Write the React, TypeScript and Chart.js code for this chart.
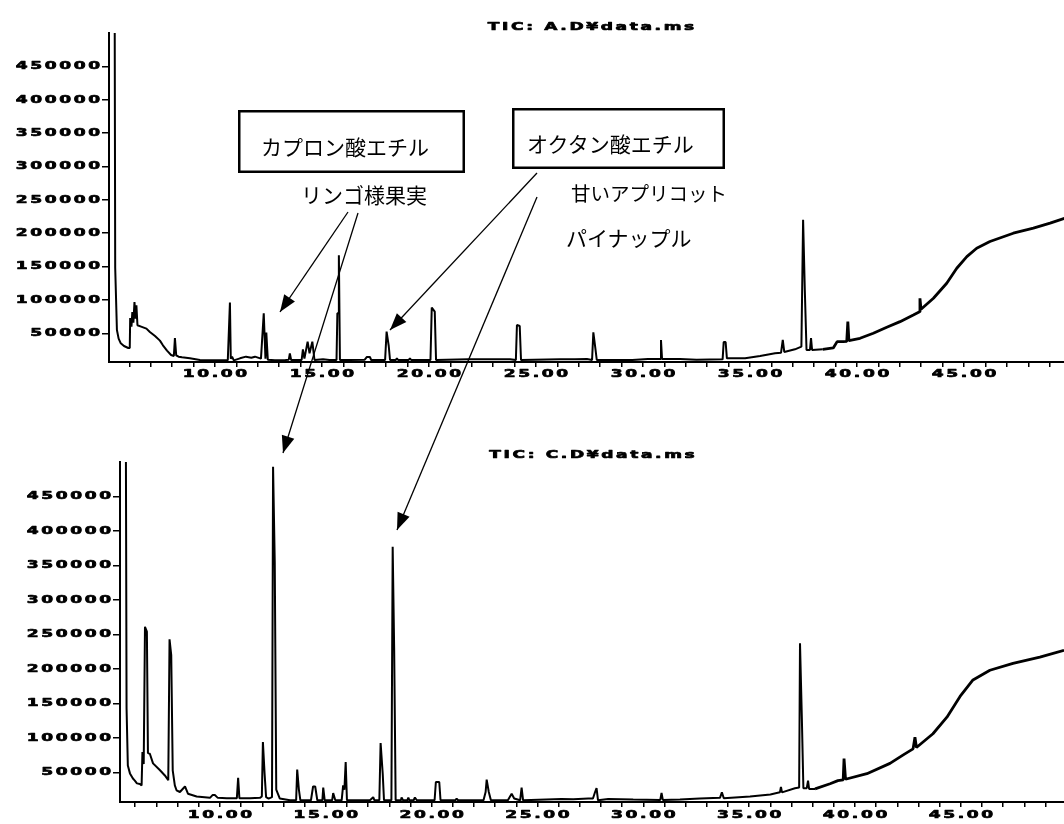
import React, { useEffect, useRef } from 'react';
import { Chart, registerables } from 'chart.js';

Chart.register(...registerables);

// ---------- Data ----------
const titleA = 'TIC: A.D¥data.ms';
const titleC = 'TIC: C.D¥data.ms';

// Retention time (min) and TIC intensity, sample A (top)
const timeA = [
  5.31, 5.34, 5.42, 5.50, 5.60, 5.75, 5.95, 6.02, 6.04, 6.10, 6.14, 6.19, 6.24, 6.29, 6.33, 6.38,
  6.55, 6.80, 6.96, 7.20, 7.43, 7.57, 7.76, 7.95, 8.08, 8.13, 8.19, 8.30, 8.46, 8.83, 9.30, 10.00,
  10.60, 10.70, 10.74, 10.80, 10.88, 11.17, 11.45, 11.70, 11.87, 12.15, 12.28, 12.36, 12.40, 12.47,
  12.80, 13.30, 13.45, 13.50, 13.56, 14.05, 14.11, 14.18, 14.33, 14.42, 14.55, 14.65, 15.05, 15.35,
  15.68, 15.72, 15.76, 15.79, 15.84, 16.30, 17.00, 17.10, 17.24, 17.30, 17.95, 18.02, 18.12, 18.18,
  18.45, 18.50, 18.56, 19.05, 19.11, 19.17, 20.07, 20.13, 20.27, 20.33, 21.82, 22.85, 23.79, 24.06,
  24.11, 24.24, 24.30, 26.12, 26.82, 27.38, 27.62, 27.68, 27.78, 27.84, 29.50, 30.23, 30.80, 30.84,
  30.89, 31.73, 32.50, 33.72, 33.77, 33.86, 33.92, 34.77, 35.47, 36.17, 36.45, 36.53, 36.60, 37.10,
  37.40, 37.48, 37.56, 37.64, 37.80, 37.85, 37.90, 38.40, 38.89, 39.07, 39.35, 39.52, 39.57, 39.62,
  40.14, 40.76, 41.39, 42.01, 42.63, 42.90, 42.94, 42.99, 43.57, 44.19, 44.66, 45.13, 45.59, 46.21,
  47.30, 48.24, 49.02, 49.70,
];
const ticA = [
  620000, 148000, 55000, 42000, 35000, 31000, 28000, 28000, 73000, 60000, 82000, 66000, 97000, 72000, 92000, 62000,
  60000, 57000, 52000, 46000, 39000, 32000, 24000, 17500, 16000, 43000, 17000, 15000, 14000, 12500, 10000, 9500,
  9500, 96000, 12000, 15000, 9500, 12500, 15000, 13500, 15000, 12000, 80000, 12000, 51000, 10500,
  9500, 10000, 10500, 20000, 10000, 10000, 26000, 12000, 37500, 20000, 37500, 10000, 11000, 10000,
  10000, 80000, 80000, 167000, 10000, 10000, 10500, 14500, 14500, 10000, 10000, 52500, 31000, 10000,
  10000, 12500, 10000, 10000, 12500, 10000, 10000, 88500, 82500, 10000, 11000, 11000, 11000, 10000,
  62500, 61000, 10000, 11000, 11000, 11500, 10000, 51500, 26000, 10000, 10000, 11500, 11500, 40000,
  11500, 11500, 10500, 11000, 37000, 37000, 12500, 12500, 16000, 20000, 21000, 40000, 22000, 26000,
  30000, 220000, 115000, 25000, 25000, 43000, 25000, 26000, 28000, 37500, 37500, 38000, 67500, 39000,
  42500, 50000, 59000, 67500, 77500, 82000, 102500, 86000, 102500, 125000, 147500, 165000, 177500, 187500,
  200000, 207500, 215000, 222500,
];

// Retention time (min) and TIC intensity, sample C (bottom)
const timeC = [
  5.55, 5.59, 5.65, 5.75, 5.89, 5.98, 6.08, 6.22, 6.30, 6.34, 6.40, 6.46, 6.55, 6.60, 6.69, 6.84,
  7.17, 7.40, 7.56, 7.62, 7.70, 7.77, 7.87, 7.95, 8.11, 8.35, 8.49, 8.90, 9.53, 9.65, 9.76, 9.90,
  10.32, 10.80, 10.86, 10.92, 11.42, 11.89, 11.98, 12.03, 12.11, 12.18, 12.30, 12.46, 12.51, 12.59,
  12.66, 12.83, 13.31, 13.60, 13.65, 13.73, 13.80, 14.30, 14.40, 14.50, 14.60, 14.84, 14.88, 14.95,
  15.30, 15.35, 15.45, 15.75, 15.82, 15.88, 15.94, 16.00, 16.61, 17.10, 17.24, 17.30, 17.53, 17.59,
  17.69, 17.75, 18.10, 18.16, 18.23, 18.30, 18.55, 18.58, 18.65, 18.85, 18.90, 18.95, 19.15, 19.21,
  19.30, 20.14, 20.20, 20.36, 20.42, 21.12, 21.18, 21.25, 22.45, 22.55, 22.60, 22.70, 22.80, 23.60,
  23.78, 23.90, 24.18, 24.25, 24.32, 26.14, 26.69, 27.40, 27.62, 27.72, 27.79, 27.86, 28.34, 29.52,
  30.80, 30.86, 30.92, 31.73, 32.67, 33.62, 33.71, 33.80, 35.04, 36.00, 36.45, 36.50, 36.55, 37.16,
  37.36, 37.40, 37.49, 37.56, 37.72, 37.78, 37.83, 38.11, 38.82, 39.19, 39.44, 39.48, 39.55, 40.56,
  41.65, 42.26, 42.74, 42.83, 42.90, 43.68, 44.34, 44.96, 45.57, 46.37, 47.46, 48.73, 49.87,
];
const ticC = [
  620000, 142500, 60000, 48500, 41000, 38000, 34000, 33000, 31000, 79500, 62000, 261000, 254000, 78000, 77000, 63000,
  53000, 45500, 38500, 243000, 220000, 53000, 31000, 24000, 21500, 29500, 19000, 15000, 13000, 17000, 17000, 13000,
  12500, 12500, 42000, 12500, 12500, 13000, 15000, 94000, 48000, 14000, 12000, 14000, 493000, 354000,
  25000, 12000, 9500, 9500, 54000, 25000, 9500, 9500, 29500, 29500, 9500, 9500, 28000, 9500,
  9500, 20000, 9500, 9500, 31000, 25000, 65000, 9500, 9500, 10000, 14000, 9500, 9500, 92500,
  48000, 9500, 9500, 377000, 230000, 9500, 9500, 13500, 9500, 9500, 13500, 9500, 9500, 13500,
  9500, 9500, 36000, 36000, 9500, 9500, 12000, 9500, 9500, 21500, 39500, 21500, 9500, 9500,
  19000, 12000, 9500, 28000, 9500, 11500, 11000, 12000, 12000, 21500, 27000, 9500, 11500, 10500,
  10000, 20000, 10000, 10500, 12000, 13000, 21000, 12500, 15000, 18000, 21000, 29000, 21000, 27000,
  28000, 237000, 125000, 27000, 27000, 38000, 26000, 26000, 33500, 38000, 39000, 70000, 40000, 48000,
  63000, 75000, 84000, 101000, 86000, 106000, 130000, 160000, 184000, 198000, 208000, 217000, 227000,
];

// Tick values
const xTickValues = [
  6, 7, 8, 9, 10, 11, 12, 13, 14, 15, 16, 17, 18, 19, 20, 21, 22, 23, 24, 25, 26, 27,
  28, 29, 30, 31, 32, 33, 34, 35, 36, 37, 38, 39, 40, 41, 42, 43, 44, 45, 46, 47, 48, 49,
];
const xLabelValues = [10, 15, 20, 25, 30, 35, 40, 45];
const yTickValues = [50000, 100000, 150000, 200000, 250000, 300000, 350000, 400000, 450000];

// ---------- Drawing helpers ----------
const LABEL_FONT = 'bold 11px "DejaVu Sans", sans-serif';
const STRETCH_X = 1.55;
const LETTER_SP = 1.7;

function drawStretched(ctx: CanvasRenderingContext2D, text: string, x: number, y: number, align: string) {
  ctx.save();
  ctx.font = LABEL_FONT;
  (ctx as any).letterSpacing = LETTER_SP + 'px';
  ctx.textAlign = 'left';
  ctx.textBaseline = 'middle';
  ctx.fillStyle = '#000';
  ctx.strokeStyle = '#000';
  ctx.lineWidth = 0.7;
  ctx.lineJoin = 'round';
  const w = (ctx.measureText(text).width - LETTER_SP) * STRETCH_X;
  const left = align === 'center' ? x - w / 2 : align === 'right' ? x - w : x;
  ctx.translate(left, y);
  ctx.scale(STRETCH_X, 1);
  ctx.fillText(text, 0, 0);
  ctx.strokeText(text, 0, 0);
  ctx.restore();
}

const stretchLabels = {
  id: 'stretchLabels',
  afterDraw(chart: any, _args: any, opts: any) {
    const ctx = chart.ctx;
    const xs = chart.scales.x;
    const ys = chart.scales.y;
    const area = chart.chartArea;
    xs.ticks.forEach((t: any) => {
      if (t.label) drawStretched(ctx, String(t.label), xs.getPixelForValue(t.value), opts.xLabelY, 'center');
    });
    ys.ticks.forEach((t: any) => {
      if (t.label) drawStretched(ctx, String(t.label), area.left - opts.yLabelGap, ys.getPixelForValue(t.value), 'right');
    });
    const title = chart.options.plugins.title.text;
    if (title) drawStretched(ctx, title, opts.titleX, opts.titleY, 'center');
  },
};

function makeConfig(p: {
  times: number[]; values: number[]; title: string; xMin: number; xMax: number;
  padTop: number; xAxisHeight: number; yAxisWidth: number; titleX: number; titleY: number; xLabelY: number;
}): any {
  return {
    type: 'line',
    data: {
      datasets: [
        {
          data: p.times.map((t, i) => ({ x: t, y: p.values[i] })),
          borderColor: '#000',
          borderWidth: 2,
          borderJoinStyle: 'bevel',
          pointRadius: 0,
          tension: 0,
          fill: false,
          segment: {
            borderWidth: (c: any) => (c.p0.parsed.x > 38 ? 2.8 : 2),
          },
        },
      ],
    },
    options: {
      animation: false,
      responsive: false,
      events: [],
      layout: { padding: { top: p.padTop, left: 0, right: 0, bottom: 0 } },
      plugins: {
        legend: { display: false },
        tooltip: { enabled: false },
        title: { display: false, text: p.title },
        stretchLabels: { titleX: p.titleX, titleY: p.titleY, xLabelY: p.xLabelY, yLabelGap: 9 },
      },
      scales: {
        x: {
          type: 'linear',
          min: p.xMin,
          max: p.xMax,
          afterBuildTicks: (s: any) => { s.ticks = xTickValues.map((v) => ({ value: v })); },
          afterFit: (s: any) => { s.height = p.xAxisHeight; },
          ticks: {
            display: false,
            callback: (v: number) => (xLabelValues.includes(v) ? v.toFixed(2) : ''),
          },
          grid: { drawOnChartArea: false, drawTicks: true, tickLength: 5, color: '#000', tickColor: '#000', lineWidth: 1.5, tickWidth: 1.5 },
          border: { display: true, color: '#000', width: 2 },
        },
        y: {
          type: 'linear',
          min: 7000,
          max: 500000,
          afterBuildTicks: (s: any) => { s.ticks = yTickValues.map((v) => ({ value: v })); },
          afterFit: (s: any) => { s.width = p.yAxisWidth; },
          ticks: { display: false, callback: (v: number) => String(v) },
          grid: { drawOnChartArea: false, drawTicks: true, tickLength: 7, color: '#000', tickColor: '#000', lineWidth: 1.5, tickWidth: 1.5 },
          border: { display: true, color: '#000', width: 2 },
        },
      },
    },
    plugins: [stretchLabels],
  };
}

function arrowHead(sx: number, sy: number, tx: number, ty: number, L = 17, W = 6.5) {
  const dx = sx - tx;
  const dy = sy - ty;
  const len = Math.hypot(dx, dy);
  const ux = dx / len;
  const uy = dy / len;
  const px = -uy;
  const py = ux;
  const bx = tx + ux * L;
  const by = ty + uy * L;
  return `${tx},${ty} ${bx + px * W},${by + py * W} ${bx - px * W},${by - py * W}`;
}

const arrows = [
  { s: [348, 212], t: [280, 312] },
  { s: [358, 213], t: [283, 453] },
  { s: [537, 173], t: [390, 330] },
  { s: [537, 197], t: [397, 530] },
];

const JP_FONT = "'Noto Sans CJK JP', 'Noto Sans CJK SC', sans-serif";

export default function App() {
  const topRef = useRef<HTMLCanvasElement>(null);
  const botRef = useRef<HTMLCanvasElement>(null);

  useEffect(() => {
    const a = new Chart(topRef.current as HTMLCanvasElement, makeConfig({
      times: timeA, values: ticA, title: titleA, xMin: 5.05, xMax: 49.67,
      padTop: 33, xAxisHeight: 48, yAxisWidth: 109, titleX: 591, titleY: 27, xLabelY: 374,
    }));
    const c = new Chart(botRef.current as HTMLCanvasElement, makeConfig({
      times: timeC, values: ticC, title: titleC, xMin: 5.28, xMax: 49.87,
      padTop: 52, xAxisHeight: 22, yAxisWidth: 120, titleX: 592, titleY: 45, xLabelY: 405,
    }));
    return () => {
      a.destroy();
      c.destroy();
    };
  }, []);

  return (
    <div style={{ position: 'absolute', left: 0, top: 0, width: 1064, height: 824, background: '#fff', overflow: 'hidden' }}>
      <canvas ref={topRef} width={1064} height={410} style={{ position: 'absolute', left: 0, top: 0, width: 1064, height: 410 }} />
      <canvas ref={botRef} width={1064} height={414} style={{ position: 'absolute', left: 0, top: 410, width: 1064, height: 414 }} />
      <svg width={1064} height={824} style={{ position: 'absolute', left: 0, top: 0, pointerEvents: 'none' }}>
        <rect x={239.25} y={111.25} width={224.5} height={60.5} fill="#fff" stroke="#000" strokeWidth={2.5} />
        <rect x={513.25} y={109.25} width={210.5} height={58.5} fill="#fff" stroke="#000" strokeWidth={2.5} />
        <g fontFamily={JP_FONT} fill="#000">
          <text x={261} y={146} fontSize={21} dominantBaseline="central">カプロン酸エチル</text>
          <text x={527} y={143} fontSize={21} dominantBaseline="central">オクタン酸エチル</text>
          <text x={301} y={194} fontSize={21} dominantBaseline="central">リンゴ様果実</text>
          <text x={571} y={192.5} fontSize={19.5} dominantBaseline="central">甘いアプリコット</text>
          <text x={566} y={237} fontSize={21} dominantBaseline="central">パイナップル</text>
        </g>
        {arrows.map((ar, i) => (
          <g key={i}>
            <line x1={ar.s[0]} y1={ar.s[1]} x2={ar.t[0]} y2={ar.t[1]} stroke="#000" strokeWidth={1.3} />
            <polygon points={arrowHead(ar.s[0], ar.s[1], ar.t[0], ar.t[1])} fill="#000" />
          </g>
        ))}
      </svg>
    </div>
  );
}
